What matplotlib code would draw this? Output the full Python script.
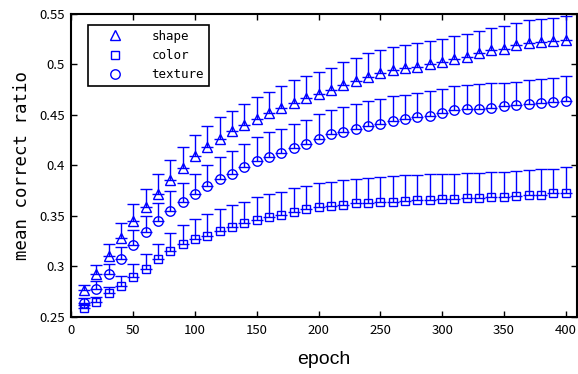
import numpy as np
import matplotlib.pyplot as plt
from matplotlib.lines import Line2D

epoch = list(range(10, 401, 10))

shape_mean = [0.277, 0.293, 0.310, 0.328, 0.345, 0.359, 0.372, 0.3855, 0.398, 0.409,
              0.4185, 0.4267, 0.434, 0.440, 0.4465, 0.4515, 0.457, 0.462, 0.4665, 0.4706,
              0.4745, 0.480, 0.4837, 0.4877, 0.4917, 0.4943, 0.497, 0.498, 0.500, 0.5026,
              0.505, 0.5075, 0.511, 0.514, 0.5156, 0.519, 0.5217, 0.5224, 0.523, 0.5247]
shape_err = [0.005, 0.008, 0.012, 0.015, 0.017, 0.018, 0.020, 0.020, 0.020, 0.021,
             0.0205, 0.021, 0.020, 0.021, 0.0215, 0.0215, 0.022, 0.0225, 0.0225, 0.022,
             0.0225, 0.022, 0.023, 0.0233, 0.0223, 0.023, 0.022, 0.0233, 0.0233, 0.023,
             0.023, 0.023, 0.022, 0.0225, 0.0224, 0.022, 0.022, 0.023, 0.0235, 0.0233]

color_mean = [0.2586, 0.265, 0.2735, 0.281, 0.290, 0.298, 0.307, 0.3153, 0.3225, 0.327,
              0.3305, 0.3355, 0.3387, 0.3427, 0.346, 0.3487, 0.351, 0.3543, 0.3566, 0.3585,
              0.360, 0.361, 0.3625, 0.363, 0.364, 0.364, 0.365, 0.3657, 0.366, 0.3664,
              0.3666, 0.3674, 0.368, 0.3684, 0.369, 0.3697, 0.3707, 0.371, 0.3724, 0.373]
color_err = [0.003, 0.0045, 0.0065, 0.0095, 0.0125, 0.0142, 0.0152, 0.0175, 0.0185, 0.0196,
             0.0215, 0.021, 0.022, 0.0215, 0.0224, 0.0227, 0.023, 0.023, 0.023, 0.0237,
             0.024, 0.0245, 0.0237, 0.025, 0.025, 0.0255, 0.0255, 0.0253, 0.0252, 0.0256,
             0.0254, 0.0256, 0.025, 0.0253, 0.0247, 0.0247, 0.0247, 0.0254, 0.0246, 0.0257]

texture_mean = [0.264, 0.2775, 0.2925, 0.307, 0.321, 0.334, 0.345, 0.355, 0.3635, 0.3717,
                0.3797, 0.3866, 0.392, 0.3987, 0.4046, 0.4086, 0.4126, 0.4175, 0.4209, 0.426,
                0.4307, 0.4333, 0.4366, 0.439, 0.441, 0.444, 0.4456, 0.4482, 0.4494, 0.452,
                0.4547, 0.4557, 0.4564, 0.4574, 0.4587, 0.4597, 0.4607, 0.4614, 0.4624, 0.464]
texture_err = [0.005, 0.008, 0.010, 0.012, 0.015, 0.016, 0.018, 0.0195, 0.0195, 0.020,
               0.021, 0.022, 0.0226, 0.023, 0.0235, 0.0244, 0.024, 0.0235, 0.0245, 0.0245,
               0.024, 0.0247, 0.0247, 0.025, 0.0253, 0.0246, 0.0244, 0.0238, 0.0245, 0.0242,
               0.0238, 0.0238, 0.0246, 0.0245, 0.0233, 0.023, 0.0237, 0.024, 0.0246, 0.0244]

series = [('shape', shape_mean, shape_err, '^', 7),
          ('color', color_mean, color_err, 's', 5.8),
          ('texture', texture_mean, texture_err, 'o', 6.8)]

tick_font = ['Noto Sans CJK JP', 'DejaVu Sans']
mono_font = ['DejaVu Sans Mono']

fig = plt.figure(figsize=(5.78, 3.74), dpi=100)
ax = fig.add_axes([0.1237, 0.1524, 0.8741, 0.8102])

handles = []
for name, m, e, mk, ms in series:
    m = np.array(m)
    e = np.array(e)
    # 上方向だけの誤差棒 (下側のキャップが点の位置に来る)
    ax.errorbar(epoch, m, yerr=[np.zeros_like(e), e], fmt='none', ecolor='b',
                elinewidth=1.0, capsize=4, capthick=1.0)
    ax.plot(epoch, m, linestyle='none', marker=mk, markersize=ms,
            markerfacecolor='none', markeredgecolor='b', markeredgewidth=1.0)
    handles.append(Line2D([], [], linestyle='none', marker=mk, markersize=ms,
                          markerfacecolor='none', markeredgecolor='b',
                          markeredgewidth=1.0, label=name))

ax.set_xlim(0, 409)
ax.set_ylim(0.25, 0.55)
ax.set_xticks(range(0, 401, 50))
ax.set_yticks([0.25, 0.3, 0.35, 0.4, 0.45, 0.5, 0.55])
ax.set_yticklabels(['0.25', '0.3', '0.35', '0.4', '0.45', '0.5', '0.55'])
ax.tick_params(direction='in', length=4, width=1, top=True, right=True,
               labelsize=9.5, pad=5)
for lab in ax.get_xticklabels() + ax.get_yticklabels():
    lab.set_family(tick_font)
for sp in ax.spines.values():
    sp.set_linewidth(1.5)

ax.set_xlabel('epoch', fontsize=14, family='Liberation Sans', labelpad=10)
ax.set_ylabel('mean correct ratio', fontsize=12.5, family=mono_font, labelpad=6)

leg = ax.legend(handles=handles, loc='upper left', bbox_to_anchor=(0.02, 0.985),
                frameon=True, fancybox=False, edgecolor='k', framealpha=1,
                prop={'family': mono_font, 'size': 9}, handlelength=3.5,
                handletextpad=1.2, borderpad=0.4, labelspacing=0.5)
leg.get_frame().set_linewidth(1.2)

fig.savefig('out.png', dpi=100)
